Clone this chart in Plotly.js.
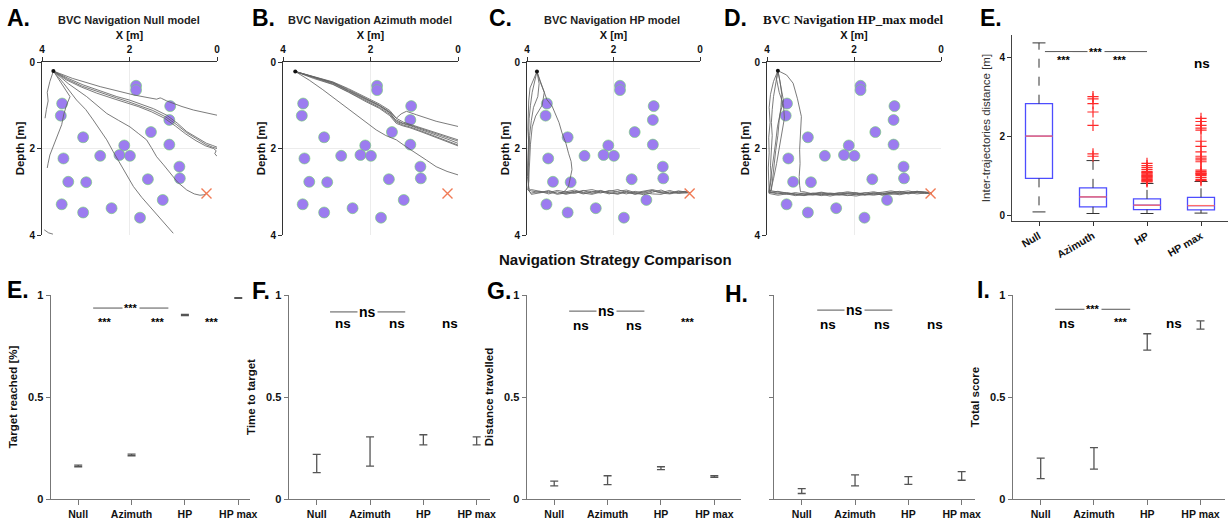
<!DOCTYPE html>
<html><head><meta charset="utf-8">
<script src="https://cdn.plot.ly/plotly-3.0.1.min.js"></script>
<style>html,body{margin:0;padding:0;background:#fff}#chart{width:1230px;height:523px}</style>
</head><body><div id="chart"></div>
<script>
// ---------------- DATA ----------------
const obstacleX = [1.85,1.85,3.54,3.57,1.07,1.09,1.51,3.06,1.09,2.12,2.23,1.99,2.67,3.51,0.86,0.85,1.58,3.40,2.99,1.24,3.55,3.06,2.41,1.76];
const obstacleY = [0.55,0.65,0.96,1.24,1.02,1.34,1.62,1.74,1.91,1.93,2.15,2.17,2.17,2.23,2.42,2.69,2.71,2.77,2.78,3.19,3.29,3.48,3.38,3.60];
const targetX = [0.24];
const targetY = [3.04];
const startXs = [3.74, 3.72, 3.77, 3.75];
const startYs = [0.21, 0.22, 0.22, 0.20];
const panelTitles = ['BVC Navigation Null model','BVC Navigation Azimuth model','BVC Navigation HP model','BVC Navigation HP_max model'];

// Null model trajectories
const nullPathX = [
 [3.74,3.3,2.67,2.2,1.91,1.6,1.38,1.3,1.27,1.15,1.0,0.8,0.54,0.3,0.0],
 [3.74,3.4,3.06,2.7,2.29,2.0,1.76,1.45,1.15,0.9,0.69,0.45,0.24,0.1,0.0],
 [3.74,3.42,3.08,2.72,2.3,2.02,1.78,1.47,1.17,0.92,0.7,0.46,0.25,0.1,0.0],
 [3.74,3.45,3.1,2.75,2.33,2.05,1.8,1.5,1.2,0.95,0.72,0.48,0.26,0.08,0.02,0.05,0.0],
 [3.74,3.4,2.98,2.75,2.52,2.25,1.99,1.8,1.61,1.5,1.38,1.22,1.07,0.9,0.69,0.52,0.39,0.3,0.24],
 [3.74,3.5,3.21,3.0,2.83,2.68,2.52,2.38,2.22,2.05,1.91,1.72,1.53,1.38,1.23,1.1,1.0],
 [3.74,3.55,3.36,3.44,3.5,3.55,3.65,3.74,3.82,3.86,3.88],
 [3.74,3.82,3.88,3.86,3.9,3.93],
 [3.95,3.85,3.75]
];
const nullPathY = [
 [0.21,0.38,0.57,0.69,0.76,0.82,0.86,0.83,0.84,0.9,0.96,1.03,1.11,1.17,1.23],
 [0.21,0.38,0.53,0.66,0.8,0.88,0.96,1.08,1.23,1.42,1.61,1.76,1.88,1.93,1.97],
 [0.21,0.40,0.56,0.69,0.83,0.92,1.0,1.12,1.27,1.45,1.63,1.79,1.91,1.97,2.0],
 [0.21,0.41,0.58,0.72,0.86,0.95,1.03,1.15,1.3,1.48,1.66,1.82,1.94,2.0,2.05,2.12,2.18],
 [0.21,0.5,0.8,1.0,1.19,1.35,1.5,1.65,1.8,1.98,2.19,2.38,2.57,2.78,2.96,3.05,3.08,3.07,3.04],
 [0.21,0.5,0.88,1.1,1.34,1.57,1.8,2.06,2.34,2.62,2.88,3.13,3.35,3.52,3.69,3.84,3.96],
 [0.21,0.5,0.80,1.0,1.2,1.45,1.7,1.96,2.15,2.34,2.45],
 [0.21,0.45,0.7,0.9,1.1,1.3],
 [3.88,3.95,3.98]
];

// Azimuth model trajectories
const azPathX = [
 [3.72,3.3,2.86,2.5,2.10,1.8,1.56,1.41,1.25,1.10,0.8,0.50,0.25,0.0],
 [3.72,3.3,2.86,2.5,2.12,1.82,1.58,1.43,1.27,1.12,0.82,0.52,0.26,0.0],
 [3.72,3.3,2.86,2.5,2.10,1.8,1.56,1.41,1.25,1.10,0.8,0.50,0.25,0.0],
 [3.72,3.3,2.86,2.5,2.10,1.8,1.56,1.41,1.25,1.10,0.8,0.50,0.25,0.0],
 [3.72,3.3,2.86,2.5,2.10,1.8,1.56,1.41,1.25,1.10,0.8,0.50,0.25,0.0],
 [3.72,3.3,2.86,2.5,2.1,1.8,1.56,1.41,1.3,1.18,0.95,0.7,0.5,0.25,0.0],
 [3.72,3.4,3.09,2.8,2.48,2.2,1.87,1.65,1.41,1.2,0.95,0.72,0.5,0.25,0.0]
];
const azPathY = [
 [0.22,0.36,0.49,0.67,0.87,1.02,1.18,1.37,1.43,1.47,1.58,1.68,1.78,1.88],
 [0.22,0.35,0.47,0.64,0.84,0.99,1.15,1.33,1.41,1.45,1.55,1.65,1.74,1.83],
 [0.22,0.37,0.51,0.69,0.9,1.05,1.21,1.39,1.46,1.5,1.61,1.72,1.82,1.92],
 [0.22,0.34,0.46,0.62,0.82,0.97,1.12,1.3,1.39,1.44,1.53,1.63,1.72,1.8],
 [0.22,0.38,0.52,0.7,0.92,1.07,1.24,1.42,1.48,1.52,1.63,1.74,1.84,1.94],
 [0.22,0.35,0.48,0.66,0.85,1.0,1.15,1.3,1.2,1.14,1.22,1.3,1.37,1.43,1.49],
 [0.22,0.42,0.64,0.86,1.10,1.32,1.57,1.70,1.80,1.95,2.11,2.27,2.42,2.53,2.61]
];

// HP model trajectories (descent part + horizontal run to target)
const hpHeadX = [
 [3.77,3.82,3.88,3.92,3.95,3.96,3.97,3.98,3.97,3.96],
 [3.77,3.72,3.75,3.85,3.9,3.94,3.95,3.97,3.96,3.98],
 [3.77,3.85,3.93,3.96,3.97,3.98,3.96,3.97,3.99,3.95],
 [3.77,3.7,3.6,3.65,3.8,3.88,3.92,3.94,3.96,3.97],
 [3.77,3.65,3.54,3.42,3.35,3.26,3.19,3.1,3.04,2.98,2.96,3.0,3.04,3.12,3.23]
];
const hpHeadY = [
 [0.22,0.45,0.7,1.0,1.3,1.6,2.0,2.4,2.7,2.92],
 [0.22,0.5,0.8,1.05,1.35,1.7,2.1,2.45,2.75,2.96],
 [0.22,0.4,0.6,0.9,1.2,1.55,1.9,2.3,2.65,2.98],
 [0.22,0.45,0.7,1.0,1.25,1.5,1.9,2.3,2.7,2.95],
 [0.22,0.55,0.87,1.02,1.18,1.4,1.64,1.88,2.11,2.3,2.49,2.7,2.88,2.98,3.03]
];
const hpTailX = [3.9,3.7,3.5,3.3,3.1,2.9,2.7,2.5,2.3,2.1,1.9,1.7,1.5,1.3,1.1,0.9,0.7,0.5,0.35,0.23];
const hpTailY = [
 [2.98,3.02,2.97,3.04,3.0,2.96,3.02,2.99,3.03,2.97,3.01,3.05,2.99,3.04,2.98,3.02,2.97,3.03,3.0,3.02],
 [3.03,2.99,3.05,3.0,3.06,3.01,2.97,3.04,2.98,3.02,3.06,2.99,3.03,3.07,3.01,2.96,3.04,2.99,3.02,3.02],
 [2.95,2.99,3.02,2.97,3.01,3.04,2.98,2.95,3.0,3.05,2.99,2.96,3.02,2.99,2.95,3.0,3.03,2.98,3.01,3.02],
 [3.06,3.02,2.99,3.06,3.03,2.99,3.05,3.01,2.97,3.03,3.04,3.0,3.06,3.02,3.05,3.06,3.0,3.04,3.03,3.02],
 [3.0,3.05,3.01,2.98,3.04,3.0,3.03,3.06,3.01,2.99,2.95,3.02,3.05,3.0,2.97,3.03,3.05,3.01,2.99,3.02]
];
const hpTailFrom = [0,0,0,0,4];

// HP_max model trajectories
const hpmHeadX = [
 [3.75,3.8,3.85,3.88,3.9,3.88,3.9,3.92,3.9,3.93],
 [3.75,3.7,3.66,3.68,3.72,3.75,3.8,3.84,3.88,3.9],
 [3.75,3.78,3.72,3.62,3.6,3.65,3.7,3.78,3.85,3.92],
 [3.75,3.85,3.92,3.95,3.93,3.96,3.95,3.97,3.96,3.95],
 [3.75,3.55,3.40,3.3,3.21,3.23,3.25,3.24,3.26,3.25,3.23],
 [3.75,3.68,3.62,3.7,3.76,3.8,3.85,3.9,3.93,3.96]
];
const hpmHeadY = [
 [0.2,0.5,0.8,1.1,1.4,1.7,2.0,2.4,2.7,2.95],
 [0.2,0.45,0.75,1.05,1.35,1.7,2.05,2.4,2.7,2.97],
 [0.2,0.4,0.7,1.0,1.3,1.6,1.95,2.35,2.7,2.99],
 [0.2,0.45,0.75,1.05,1.4,1.75,2.1,2.45,2.75,3.0],
 [0.2,0.3,0.49,0.85,1.26,1.6,2.03,2.35,2.65,2.85,3.0],
 [0.2,0.55,0.9,1.2,1.5,1.85,2.2,2.5,2.8,3.02]
];
const hpmTailX = [3.95,3.75,3.55,3.35,3.15,2.95,2.75,2.55,2.35,2.15,1.95,1.75,1.55,1.35,1.15,0.95,0.75,0.55,0.38,0.21];
const hpmTailY = [
 [3.0,3.03,3.06,3.02,3.05,3.08,3.04,3.06,3.02,3.05,3.07,3.03,3.0,3.04,3.02,2.99,3.03,3.0,3.02,3.03],
 [2.97,3.01,3.04,3.07,3.03,3.06,3.09,3.05,3.08,3.04,3.02,3.06,3.04,3.01,2.98,3.02,3.05,3.01,3.0,3.03],
 [3.04,3.08,3.05,3.09,3.07,3.03,3.06,3.1,3.06,3.02,3.05,3.08,3.05,3.07,3.03,3.0,2.98,3.02,3.04,3.03],
 [3.02,2.99,3.03,3.05,3.08,3.04,3.01,3.04,3.07,3.09,3.05,3.02,3.06,3.03,3.06,3.04,3.01,2.99,3.01,3.03],
 [3.06,3.04,3.08,3.04,3.0,3.05,3.07,3.03,3.05,3.07,3.1,3.06,3.08,3.05,3.01,3.05,3.02,3.05,3.03,3.03],
 [3.01,3.05,3.02,3.06,3.09,3.06,3.02,3.07,3.04,3.0,3.03,3.07,3.02,3.08,3.04,3.07,3.03,2.99,3.02,3.03]
];
const hpmTailFrom = [0,0,0,0,4,0];

// Box plot (inter-trajectories distance)
const models = ['Null','Azimuth','HP','HP max'];
const boxQ1 = [0.93,0.21,0.14,0.13];
const boxMedian = [2.0,0.46,0.25,0.24];
const boxQ3 = [2.82,0.69,0.41,0.45];
const boxLower = [0.08,0.04,0.04,0.05];
const boxUpper = [4.36,1.38,0.80,0.85];
const outliersNull = [];
const outliersAzimuth = [3.0,2.94,2.82,2.61,2.27,1.55,1.49];
const outliersHP = [0.84,0.86,0.88,0.9,0.92,0.94,0.96,0.98,1.0,1.02,1.04,1.06,1.08,1.1,1.15,1.2,1.25,1.31];
const outliersHPmax = [0.87,0.9,0.95,1.0,1.03,1.05,1.07,1.1,1.14,1.35,1.4,1.44,1.49,1.6,1.74,1.87,2.15,2.2,2.27,2.37,2.45];

// Bottom panels (mean +- error)
const targetMean = [0.162,0.216,0.902,0.985];
const targetErr  = [0.004,0.004,0.003,0.002];
const timeMean   = [0.174,0.233,0.290,0.285];
const timeErr    = [0.045,0.072,0.025,0.020];
const distMean   = [0.076,0.092,0.151,0.110];
const distErr    = [0.012,0.022,0.007,0.004];
const panelHMean = [0.039,0.091,0.091,0.113];
const panelHErr  = [0.012,0.027,0.019,0.021];
const scoreMean  = [0.150,0.199,0.770,0.853];
const scoreErr   = [0.050,0.053,0.040,0.020];

// ---------------- BUILD ----------------
const W = 1230, H = 523;
const FONT = 'Liberation Sans, Arial, sans-serif';
const fx = (a,b) => [a/W, b/W];
const fy = (t,b) => [1-b/H, 1-t/H];
const ax = n => n===1 ? '' : String(n);
const catPos = [1,2,3,4];

const traces = [];
const layout = {
  width: W, height: H, margin:{l:0,r:0,t:0,b:0},
  paper_bgcolor:'#fff', plot_bgcolor:'rgba(0,0,0,0)',
  showlegend:false, hovermode:false,
  font:{family:FONT, color:'#111'},
  annotations:[], shapes:[]
};

// trajectory panels
const topDomains = [[42,217],[283,458],[527,700],[767,941]];
function buildPaths(hx, hy, tx, ty, from){
  return hx.map((h,i)=>({x:h.concat(tx.slice(from[i])), y:hy[i].concat(ty[i].slice(from[i]))}));
}
const panelPaths = [
  nullPathX.map((p,i)=>({x:p, y:nullPathY[i]})),
  azPathX.map((p,i)=>({x:p, y:azPathY[i]})),
  buildPaths(hpHeadX, hpHeadY, hpTailX, hpTailY, hpTailFrom),
  buildPaths(hpmHeadX, hpmHeadY, hpmTailX, hpmTailY, hpmTailFrom)
];
for(let p=0;p<4;p++){
  const n = p+1;
  const xa = 'x'+ax(n), ya = 'y'+ax(n);
  layout['xaxis'+ax(n)] = {
    domain: fx(topDomains[p][0], topDomains[p][1]), anchor: ya, side:'top',
    range:[4,0], tickvals:[0,2,4], ticks:'outside', ticklen:4, tickcolor:'#333',
    showline:true, linecolor:'#333', linewidth:1, showgrid:true, gridcolor:'#ececec', zeroline:false,
    tickfont:{family:FONT,size:10,weight:'bold',color:'#111'},
    title:{text:'X [m]', font:{family:FONT,size:11,weight:'bold',color:'#111'}, standoff:2}
  };
  layout['yaxis'+ax(n)] = {
    domain: fy(62,235), anchor: xa,
    range:[4,0], tickvals:[0,2,4], ticks:'outside', ticklen:4, tickcolor:'#333',
    showline:true, linecolor:'#333', linewidth:1, showgrid:true, gridcolor:'#ececec', zeroline:false,
    tickfont:{family:FONT,size:10,weight:'bold',color:'#111'},
    title:{text:'Depth [m]', font:{family:FONT,size:11.5,weight:'bold',color:'#111'}, standoff:2}
  };
  traces.push({type:'scatter', mode:'markers', x:obstacleX, y:obstacleY, xaxis:xa, yaxis:ya,
    marker:{size:11, color:'#9c7cf0', line:{color:'#6fd06f', width:0.6}}, cliponaxis:false});
  panelPaths[p].forEach(pt=>{
    traces.push({type:'scatter', mode:'lines', x:pt.x, y:pt.y, xaxis:xa, yaxis:ya,
      line:{color:'rgba(100,100,100,0.85)', width:1}});
  });
  traces.push({type:'scatter', mode:'markers', x:targetX, y:targetY, xaxis:xa, yaxis:ya, cliponaxis:false,
    marker:{symbol:'x-thin-open', size:10, color:'#f07a55', line:{color:'#f07a55', width:1.4}}});
  traces.push({type:'scatter', mode:'markers', x:[startXs[p]], y:[startYs[p]], xaxis:xa, yaxis:ya,
    marker:{size:4, color:'#111'}});
}

// top titles
const titleCenters = [129,370,612,853];
panelTitles.forEach((t,i)=>{
  const serif = i===3;
  layout.annotations.push({xref:'paper',yref:'paper', x:titleCenters[i]/W, y:1-20/H, xanchor:'center', yanchor:'middle',
    text:t, showarrow:false,
    font: serif ? {family:'Liberation Serif, Times New Roman, serif', size:13, weight:'bold', color:'#111'}
                : {family:FONT, size:11, weight:'bold', color:'#222'}});
});

// box plot panel (5)
layout.xaxis5 = {domain: fx(1012,1228), anchor:'y5', range:[0.5,4.5], tickvals:catPos, ticktext:models,
  tickangle:-30, ticks:'outside', ticklen:4, tickcolor:'#333', showline:true, linecolor:'#444', linewidth:1,
  showgrid:false, zeroline:false, tickfont:{family:FONT,size:10.5,weight:'bold',color:'#111'}};
layout.yaxis5 = {domain: fy(35,221), anchor:'x5', range:[-0.15,4.56], tickvals:[0,2,4], ticks:'outside', ticklen:4,
  tickcolor:'#333', showline:true, linecolor:'#444', linewidth:1, showgrid:false, zeroline:false,
  tickfont:{family:FONT,size:10,weight:'bold',color:'#111'},
  title:{text:'Inter-trajectories distance [m]', font:{family:FONT,size:11.5,color:'#333'}, standoff:6}};

traces.push({type:'box', x:catPos, q1:boxQ1, median:boxMedian, q3:boxQ3, lowerfence:boxQ1, upperfence:boxQ3,
  xaxis:'x5', yaxis:'y5', width:0.5, whiskerwidth:0, boxpoints:false,
  line:{color:'#4d4dff', width:1.3}, fillcolor:'rgba(255,255,255,0)'});
// whiskers (dashed), caps, medians
const wx=[], wy=[], cx=[], cy=[], mx=[], my=[];
catPos.forEach((c,i)=>{
  wx.push(c,c,null,c,c,null); wy.push(boxQ3[i],boxUpper[i],null,boxQ1[i],boxLower[i],null);
  cx.push(c-0.12,c+0.12,null,c-0.12,c+0.12,null); cy.push(boxUpper[i],boxUpper[i],null,boxLower[i],boxLower[i],null);
  mx.push(c-0.25,c+0.25,null); my.push(boxMedian[i],boxMedian[i],null);
});
traces.push({type:'scatter',mode:'lines',x:wx,y:wy,xaxis:'x5',yaxis:'y5',line:{color:'#333',width:1,dash:'dash'}});
traces.push({type:'scatter',mode:'lines',x:cx,y:cy,xaxis:'x5',yaxis:'y5',line:{color:'#333',width:1}});
traces.push({type:'scatter',mode:'lines',x:mx,y:my,xaxis:'x5',yaxis:'y5',line:{color:'#ff6b6b',width:1.3}});
const outs = [outliersNull, outliersAzimuth, outliersHP, outliersHPmax];
const ox=[], oy=[];
outs.forEach((arr,i)=>arr.forEach(v=>{ox.push(catPos[i]); oy.push(v);}));
traces.push({type:'scatter',mode:'markers',x:ox,y:oy,xaxis:'x5',yaxis:'y5',
  marker:{symbol:'cross-thin-open',size:8,color:'#ff2a2a',line:{color:'#ff2a2a',width:1.2}}});

// bottom panels
const bottom = [
  {n:6, dom:[51,250], range:[0.49,4.22], mean:targetMean, err:targetErr, title:'Target reached [%]', labels:true},
  {n:7, dom:[289,490], range:[0.48,4.25], mean:timeMean, err:timeErr, title:'Time to target', labels:true},
  {n:8, dom:[527,741], range:[0.49,4.5], mean:distMean, err:distErr, title:'Distance travelled', labels:true},
  {n:9, dom:[774,975], range:[0.48,4.25], mean:panelHMean, err:panelHErr, title:'', labels:false},
  {n:10, dom:[1013,1225], range:[0.48,4.46], mean:scoreMean, err:scoreErr, title:'Total score', labels:true}
];
bottom.forEach(b=>{
  const xa='x'+b.n, ya='y'+b.n;
  layout['xaxis'+b.n] = {domain:fx(b.dom[0],b.dom[1]), anchor:ya, range:b.range, tickvals:catPos, ticktext:models,
    ticks:'outside', ticklen:5, tickcolor:'#777', showline:true, linecolor:'#777', linewidth:1.4,
    showgrid:false, zeroline:false, tickfont:{family:FONT,size:10.5,weight:'bold',color:'#111'}};
  layout['yaxis'+b.n] = {domain:fy(295,499), anchor:xa, range:[0,1], tickvals:[0,0.5,1], ticktext:['0','0.5','1'],
    ticks:'outside', ticklen:4, tickcolor:'#777', showline:true, linecolor:'#777', linewidth:1.4,
    showgrid:false, zeroline:false, showticklabels:b.labels,
    tickfont:{family:FONT,size:11,weight:'bold',color:'#111'},
    title:{text:b.title, font:{family:FONT,size:11.5,weight:'bold',color:'#111'}, standoff:8}};
  traces.push({type:'scatter', mode:'markers', x:catPos, y:b.mean, xaxis:xa, yaxis:ya, cliponaxis:false,
    marker:{size:2, color:'rgba(0,0,0,0)'},
    error_y:{type:'data', array:b.err, visible:true, color:'#555', thickness:1.3, width:4}});
});

// significance markers
function sig(xr, yr, x0, x1, y, mid, subs){
  layout.shapes.push({type:'line', xref:xr, yref:yr, x0:x0, x1:x1, y0:y, y1:y, line:{color:'#555', width:1}});
  layout.annotations.push({xref:xr, yref:yr, x:(x0+x1)/2, y:y, text:mid, showarrow:false, bgcolor:'#fff', borderpad:1,
    font:{family:FONT, size: mid==='ns'?14:11, weight:'bold', color:'#000'}});
  subs.forEach(s=>{
    layout.annotations.push({xref:xr, yref:yr, x:s[0], y:s[1], text:s[2], showarrow:false, bgcolor:'#fff', borderpad:1,
      font:{family:FONT, size: s[2]==='ns'?13.5:11, weight:'bold', color:'#000'}});
  });
}
sig('x5','y5',1.11,3.0,4.14,'***',[[1.46,3.93,'***'],[2.5,3.93,'***'],[4.02,3.83,'ns']]);
sig('x6','y6',1.28,2.69,0.936,'***',[[1.5,0.868,'***'],[2.5,0.868,'***'],[3.5,0.868,'***']]);
sig('x7','y7',1.25,2.66,0.917,'ns',[[1.5,0.858,'ns'],[2.5,0.858,'ns'],[3.5,0.858,'ns']]);
sig('x8','y8',1.28,2.69,0.921,'ns',[[1.5,0.852,'ns'],[2.5,0.852,'ns'],[3.5,0.867,'***']]);
sig('x9','y9',1.29,2.70,0.926,'ns',[[1.5,0.853,'ns'],[2.5,0.853,'ns'],[3.5,0.853,'ns']]);
sig('x10','y10',1.27,2.68,0.93,'***',[[1.5,0.858,'ns'],[2.5,0.868,'***'],[3.5,0.858,'ns']]);

// panel letters
const letters = [['A.',5,18],['B.',250,18],['C.',487,18],['D.',722,18],['E.',978,18],
                 ['E.',5,290],['F.',250,291],['G.',485,291],['H.',723,294],['I.',975,290]];
letters.forEach(l=>layout.annotations.push({xref:'paper',yref:'paper',x:l[1]/W,y:1-l[2]/H,xanchor:'left',yanchor:'middle',
  text:l[0], showarrow:false, font:{family:FONT,size:23,weight:'bold',color:'#000'}}));

// central title
layout.annotations.push({xref:'paper',yref:'paper',x:615/W,y:1-259/H,xanchor:'center',yanchor:'middle',
  text:'Navigation Strategy Comparison', showarrow:false, font:{family:FONT,size:15,weight:'bold',color:'#111'}});

Plotly.newPlot('chart', traces, layout, {displayModeBar:false, staticPlot:true});
</script>
</body></html>
